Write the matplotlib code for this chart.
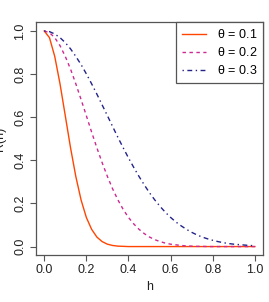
import numpy as np
import matplotlib
matplotlib.use("Agg")
import matplotlib.pyplot as plt

# correlation curves, h in steps of 0.025
h = np.linspace(0, 1, 41)

r_01 = [1.000, 0.969, 0.882, 0.755, 0.607, 0.458, 0.325, 0.216, 0.135, 0.080,
        0.044, 0.023, 0.011, 0.005, 0.002, 0.001, 0.000, 0.000, 0.000, 0.000,
        0.000, 0.000, 0.000, 0.000, 0.000, 0.000, 0.000, 0.000, 0.000, 0.000,
        0.000, 0.000, 0.000, 0.000, 0.000, 0.000, 0.000, 0.000, 0.000, 0.000,
        0.000]
r_02 = [1.000, 0.992, 0.969, 0.932, 0.882, 0.823, 0.755, 0.682, 0.607, 0.531,
        0.458, 0.389, 0.325, 0.267, 0.216, 0.172, 0.135, 0.105, 0.080, 0.060,
        0.044, 0.032, 0.023, 0.016, 0.011, 0.008, 0.005, 0.003, 0.002, 0.001,
        0.001, 0.000, 0.000, 0.000, 0.000, 0.000, 0.000, 0.000, 0.000, 0.000,
        0.000]
r_03 = [1.000, 0.997, 0.986, 0.969, 0.946, 0.917, 0.882, 0.844, 0.801, 0.755,
        0.707, 0.657, 0.607, 0.556, 0.506, 0.458, 0.411, 0.367, 0.325, 0.286,
        0.249, 0.216, 0.186, 0.159, 0.135, 0.114, 0.096, 0.080, 0.066, 0.054,
        0.044, 0.036, 0.029, 0.023, 0.018, 0.014, 0.011, 0.009, 0.007, 0.005,
        0.004]

labels = [r"$\theta\,=\,0.1$", r"$\theta\,=\,0.2$", r"$\theta\,=\,0.3$"]
colors = ["orangered", "#CD2990", "#23238A"]
styles = ["-", (0, (2.5, 2.5)), (0, (1, 2.5, 3.5, 2.5))]
xticks = [0.0, 0.2, 0.4, 0.6, 0.8, 1.0]
yticks = [0.0, 0.2, 0.4, 0.6, 0.8, 1.0]

plt.rcParams['font.family'] = ['Liberation Sans', 'DejaVu Sans']
plt.rcParams['mathtext.fontset'] = 'custom'
plt.rcParams['mathtext.rm'] = 'Liberation Sans'
plt.rcParams['mathtext.it'] = 'Liberation Sans'

fig = plt.figure(figsize=(2.69, 3.02), dpi=100)
ax = fig.add_axes([0.133, 0.155, 0.846, 0.771])

for ys, lab, c, ls in zip([r_01, r_02, r_03], labels, colors, styles):
    ax.plot(h, ys, color=c, linestyle=ls, lw=1.0, label=lab)

ax.set_xlim(-0.04, 1.04)
ax.set_ylim(-0.04, 1.04)
ax.set_xticks(xticks)
ax.set_yticks(yticks)
ax.set_xticklabels([f"{v:.1f}" for v in xticks])
ax.set_yticklabels([f"{v:.1f}" for v in yticks], rotation=90, va='center')
ax.tick_params(axis='both', length=4, width=0.8, color='#555555',
               labelsize=9, labelcolor='#222222')
ax.tick_params(axis='x', pad=2)
ax.tick_params(axis='y', pad=3)
for s in ax.spines.values():
    s.set_color('#555555')
    s.set_linewidth(0.9)

ax.set_xlabel("h", fontsize=9, labelpad=4, color='#222222')
ax.set_ylabel("R(h)", fontsize=9, labelpad=6, color='#222222')

leg = ax.legend(loc='upper right', bbox_to_anchor=(1.0, 1.0), borderaxespad=0,
                fancybox=False, framealpha=1, edgecolor='#555555', fontsize=9,
                handlelength=1.9, handletextpad=0.9, labelspacing=0.4,
                borderpad=0.45)
leg.get_frame().set_linewidth(0.9)

fig.savefig("out.png", dpi=100)
